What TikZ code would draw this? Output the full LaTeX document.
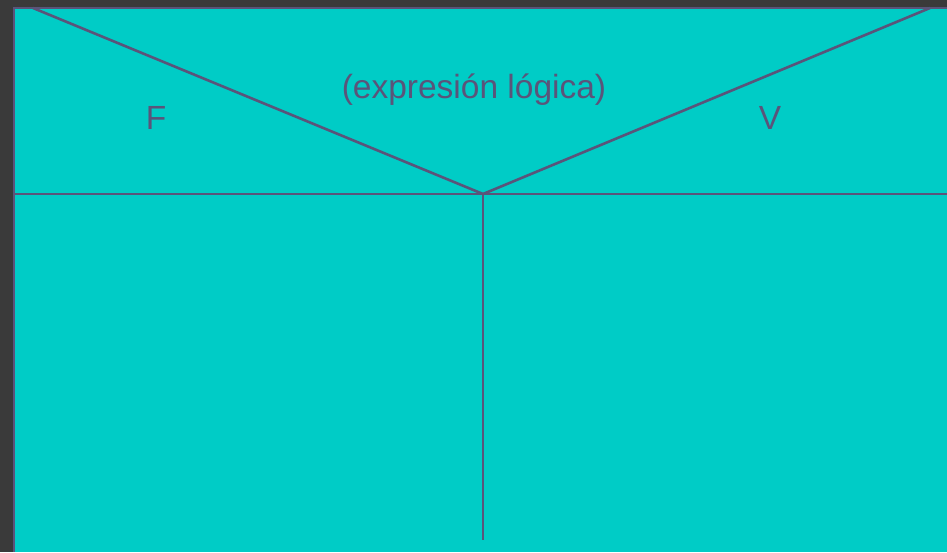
\documentclass[tikz,border=0pt]{standalone}
\usepackage{fontspec}
\setmainfont{Liberation Sans}
\definecolor{bgdark}{RGB}{58,58,58}
\definecolor{teal}{RGB}{0,204,198}
\definecolor{linec}{RGB}{90,84,122}
\tikzset{
  edge/.style={draw=linec, line width=2.6pt},
  lbl/.style={text=linec, font=\fontsize{33.5}{40}\selectfont, anchor=base, inner sep=0pt}
}
\begin{document}
\begin{tikzpicture}[x=1pt,y=-1pt]
\useasboundingbox (0,0) rectangle (947,552);
\fill[bgdark] (0,0) rectangle (947,552);
\fill[teal] (14,8) rectangle (947,552);
\draw[edge] (947,8) -- (14,8) -- (14,552);
\coordinate (tl) at (33,8);
\coordinate (tr) at (930,8);
\coordinate (c) at (483,194);
\coordinate (hl) at (14,194);
\coordinate (hr) at (947,194);
\coordinate (vb) at (483,540);
\draw[edge] (tl) -- (c) -- (tr);
\draw[edge] (hl) -- (hr);
\draw[edge] (c) -- (vb);
\node[lbl] (expr) at (474,98) {(expresión lógica)};
\node[lbl] (f) at (156,129) {F};
\node[lbl] (v) at (770,129) {V};
\end{tikzpicture}
\end{document}
